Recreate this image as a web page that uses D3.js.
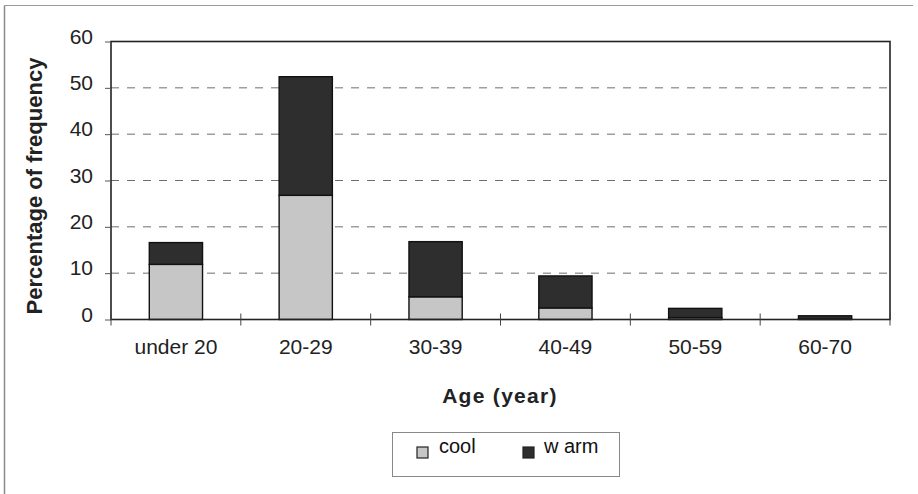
<!DOCTYPE html>
<html>
<head>
<meta charset="utf-8">
<script src="https://cdn.jsdelivr.net/npm/d3@7/dist/d3.min.js"></script>
<style>
  html, body { margin: 0; padding: 0; background: #fff; }
  svg { display: block; font-family: Arial, "Liberation Sans", sans-serif; }
</style>
</head>
<body>
<svg id="chart" width="918" height="494"></svg>
<script>
// Age groups and the share of responses (%) per group, split by preference
const ageGroups = ["under 20", "20-29", "30-39", "40-49", "50-59", "60-70"];
const coolValues = [11.9, 26.8, 4.9, 2.5, 0.4, 0.1];
const warmValues = [4.7, 25.6, 11.9, 6.9, 2.0, 0.7];
const yTicks = [0, 10, 20, 30, 40, 50, 60];
const seriesNames = ["cool", "warm"];
const seriesColors = { cool: "#c6c6c6", warm: "#2e2e2e" };

const svg = d3.select("#chart");
const plot = { left: 111, right: 890, top: 41.5, bottom: 319.5 };
const fontFamily = "Arial, 'Liberation Sans', sans-serif";

// Outer frame (left/top edges only, as printed)
svg.append("line").attr("x1", 4.5).attr("x2", 913).attr("y1", 5.5).attr("y2", 5.5)
  .attr("stroke", "#9a9a9a").attr("stroke-width", 1);
svg.append("line").attr("x1", 4.5).attr("x2", 4.5).attr("y1", 5.5).attr("y2", 494)
  .attr("stroke", "#8a8a8a").attr("stroke-width", 1.5);

const x = d3.scaleBand().domain(ageGroups).range([plot.left, plot.right]).paddingInner(0.59).paddingOuter(0.295);
const y = d3.scaleLinear().domain([0, 60]).range([plot.bottom, plot.top]);

// Dashed gridlines
svg.append("g").selectAll("line").data(yTicks.filter(t => t > 0 && t < 60)).join("line")
  .attr("x1", plot.left).attr("x2", plot.right)
  .attr("y1", d => y(d)).attr("y2", d => y(d))
  .attr("stroke", "#6e6e6e").attr("stroke-width", 1).attr("stroke-dasharray", "8,8");

// Stacked bars
const table = ageGroups.map((g, i) => ({ group: g, cool: coolValues[i], warm: warmValues[i] }));
const stacked = d3.stack().keys(seriesNames)(table);
svg.append("g").selectAll("g").data(stacked).join("g")
  .attr("fill", d => seriesColors[d.key])
  .selectAll("rect").data(d => d).join("rect")
  .attr("x", d => x(d.data.group))
  .attr("width", x.bandwidth())
  .attr("y", d => y(d[1]))
  .attr("height", d => y(d[0]) - y(d[1]))
  .attr("stroke", "#111").attr("stroke-width", 1.4);

// Plot area border
svg.append("rect").attr("x", plot.left).attr("y", plot.top)
  .attr("width", plot.right - plot.left).attr("height", plot.bottom - plot.top)
  .attr("fill", "none").attr("stroke", "#222").attr("stroke-width", 1.6);

// Y axis
const yAxis = svg.append("g").attr("transform", `translate(${plot.left},0)`)
  .call(d3.axisLeft(y).tickValues(yTicks).tickSize(6).tickPadding(12));
yAxis.select(".domain").remove();
yAxis.selectAll("line").attr("stroke", "#555");
yAxis.selectAll("text").attr("font-size", 21).attr("fill", "#222")
  .attr("font-family", fontFamily).attr("y", -5);

// X axis: ticks sit between categories, crossing the axis line
const boundaries = d3.range(ageGroups.length + 1).map(i => plot.left + i * (plot.right - plot.left) / ageGroups.length);
svg.append("g").selectAll("line").data(boundaries).join("line")
  .attr("x1", d => d).attr("x2", d => d)
  .attr("y1", plot.bottom - 6).attr("y2", plot.bottom + 6)
  .attr("stroke", "#444").attr("stroke-width", 1);
svg.append("g").selectAll("text").data(ageGroups).join("text")
  .attr("x", d => x(d) + x.bandwidth() / 2).attr("y", 354)
  .attr("text-anchor", "middle").attr("font-size", 21).attr("fill", "#222")
  .text(d => d);

// Axis titles
svg.append("text").attr("transform", "translate(42,186) rotate(-90)")
  .attr("text-anchor", "middle").attr("font-size", 22).attr("font-weight", "bold")
  .attr("fill", "#222").text("Percentage of frequency");
svg.append("text").attr("x", 500).attr("y", 403)
  .attr("text-anchor", "middle").attr("font-size", 21).attr("font-weight", "bold")
  .attr("letter-spacing", 1.3).attr("fill", "#222").text("Age (year)");

// Legend
const legend = svg.append("g");
legend.append("rect").attr("x", 392.5).attr("y", 432.5).attr("width", 227).attr("height", 44)
  .attr("fill", "#fff").attr("stroke", "#888").attr("stroke-width", 1);
const legendItems = [
  { key: "cool", sx: 417, tx: 439 },
  { key: "warm", sx: 523, tx: 544 }
];
legendItems.forEach(it => {
  legend.append("rect").attr("x", it.sx).attr("y", 447).attr("width", 11).attr("height", 11)
    .attr("fill", seriesColors[it.key]).attr("stroke", "#222").attr("stroke-width", 1.2);
  legend.append("text").attr("x", it.tx).attr("y", 453).attr("font-size", 20)
    .attr("fill", "#111").text(it.key === "warm" ? "w arm" : it.key);
});
</script>
</body>
</html>
